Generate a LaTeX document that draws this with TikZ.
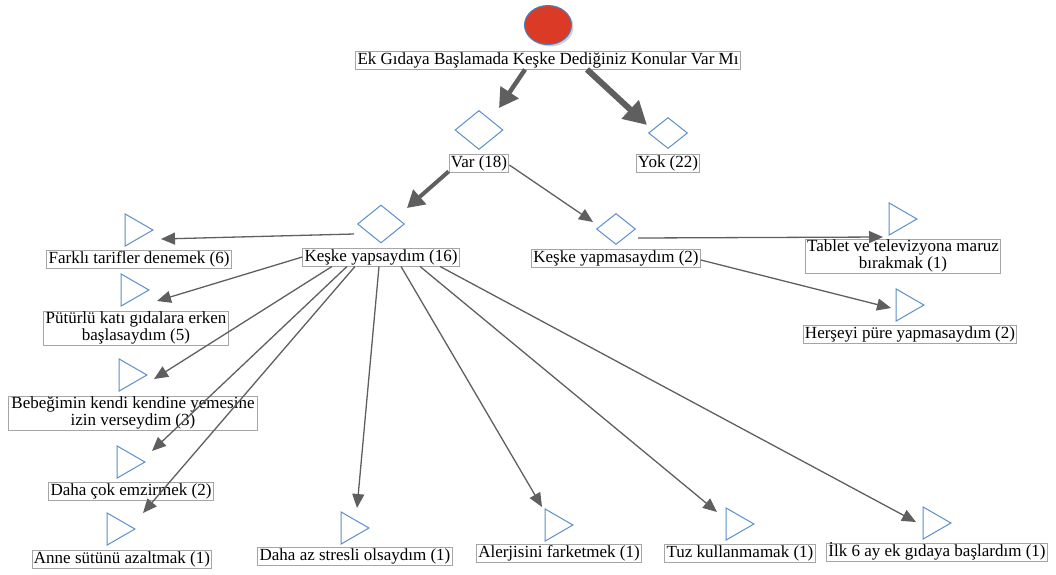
\documentclass[tikz,border=0pt]{standalone}
\usepackage{fontspec}
\setmainfont{Liberation Serif}
\usetikzlibrary{arrows.meta,shapes.geometric,shadows}
\definecolor{arrowgray}{HTML}{5F5F5F}
\definecolor{boxgray}{HTML}{A5A5A5}
\definecolor{shapeblue}{HTML}{5B8FCB}
\definecolor{rootred}{HTML}{DB3B26}
\definecolor{rootblue}{HTML}{4A7EBB}
\begin{document}
\begin{tikzpicture}[x=1pt,y=-1pt,
  lblbase/.style={draw=boxgray, line width=0.9pt, fill=white, inner xsep=1.8pt, inner ysep=0.75pt,
    align=center, font=\fontsize{17}{16.5}\selectfont},
  lbl/.style={lblbase, text height=12.5pt, text depth=4pt},
  lblm/.style={lblbase, inner ysep=1pt},
  dia/.style={diamond, draw=shapeblue, line width=1pt, inner sep=0pt},
  tri/.style={regular polygon, regular polygon sides=3, draw=shapeblue, line width=1pt,
    minimum size=37pt, inner sep=0pt, rotate=-90},
  conn/.style={draw=arrowgray, line width=1.3pt, -{Triangle[length=14pt,width=12pt]}},
  thickvar/.style={draw=arrowgray, line width=4.5pt, -{Triangle[length=19pt,width=21pt]}},
  thickyok/.style={draw=arrowgray, line width=6pt, -{Triangle[length=23pt,width=24pt]}},
  thickky/.style={draw=arrowgray, line width=4pt, -{Triangle[length=17pt,width=19pt]}}
]
\useasboundingbox (0,0) rectangle (1056,574);

% root
\node[ellipse, draw=rootblue, line width=1pt, fill=rootred, minimum width=47pt, minimum height=39pt,
  inner sep=0pt, drop shadow={shadow xshift=2pt, shadow yshift=-2pt, fill=gray!70}] (root) at (548,25) {};
\node[lbl] (title) at (548,60) {Ek Gıdaya Başlamada Keşke Dediğiniz Konular Var Mı};

% level 1
\node[dia, minimum width=48pt, minimum height=39pt] (dvar) at (479,130) {};
\node[lbl] (lvar) at (479,163) {Var (18)};
\node[dia, minimum width=39pt, minimum height=31pt] (dyok) at (668,133) {};
\node[lbl] (lyok) at (668,163) {Yok (22)};

% level 2
\node[dia, minimum width=47pt, minimum height=38pt] (dky) at (381,224) {};
\node[lbl] (lky) at (381,257) {Keşke yapsaydım (16)};
\node[dia, minimum width=39pt, minimum height=31pt] (dkm) at (616,229) {};
\node[lbl] (lkm) at (616,258) {Keşke yapmasaydım (2)};

% leaves (triangle node placed at centroid = box centre - 4.6)
\node[tri] (t1) at (134.4,230) {};
\node[lbl] (l1) at (139,259) {Farklı tarifler denemek (6)};
\node[tri] (t2) at (130.4,290) {};
\node[lblm] (l2) at (136,328) {Pütürlü katı gıdalara erken\\başlasaydım (5)};
\node[tri] (t3) at (128.4,375) {};
\node[lblm, inner xsep=3pt] (l3) at (133,413) {Bebeğimin kendi kendine yemesine\\izin verseydim (3)};
\node[tri] (t4) at (126.4,462) {};
\node[lbl] (l4) at (131,491) {Daha çok emzirmek (2)};
\node[tri] (t5) at (116.4,529) {};
\node[lbl] (l5) at (122,559) {Anne sütünü azaltmak (1)};
\node[tri] (t6) at (350.4,528) {};
\node[lbl] (l6) at (355,556) {Daha az stresli olsaydım (1)};
\node[tri] (t7) at (554.4,525) {};
\node[lbl] (l7) at (559,553) {Alerjisini farketmek (1)};
\node[tri] (t8) at (735.4,524) {};
\node[lbl] (l8) at (740,553) {Tuz kullanmamak (1)};
\node[tri] (t9) at (932.4,523) {};
\node[lbl] (l9) at (937,552) {İlk 6 ay ek gıdaya başlardım (1)};
\node[tri] (t10) at (898.4,219) {};
\node[lblm] (l10) at (903,256) {Tablet ve televizyona maruz\\bırakmak (1)};
\node[tri] (t11) at (905.4,305) {};
\node[lbl] (l11) at (910,334) {Herşeyi püre yapmasaydım (2)};

% arrow tips
\coordinate (eVar) at (499,108);
\coordinate (eYok) at (647,125);
\coordinate (eKy) at (407,208);
\coordinate (eKm) at (593,222);
\coordinate (e1) at (161,239);
\coordinate (e2) at (157,301);
\coordinate (e3) at (154,379);
\coordinate (e4) at (152,451);
\coordinate (e5) at (143,513);
\coordinate (e6) at (357,508);
\coordinate (e7) at (542,507);
\coordinate (e8) at (717,512);
\coordinate (e9) at (916,522);
\coordinate (e10) at (883,237);
\coordinate (e11) at (891,308);

% connectors
\draw[thickvar] ([xshift=-23pt]title.south) -- (eVar);
\draw[thickyok] ([xshift=39pt]title.south) -- (eYok);
\draw[thickky] ([yshift=1pt]lvar.south west) -- (eKy);
\draw[conn] ([yshift=-2pt]lvar.east) -- (eKm);
\draw[conn] ([xshift=-3pt,yshift=-10pt]dky.west) -- (e1);
\draw[conn] (lky.west) -- (e2);
\draw[conn] ([xshift=-49pt]lky.south) -- (e3);
\draw[conn] ([xshift=-34pt]lky.south) -- (e4);
\draw[conn] ([xshift=-26pt]lky.south) -- (e5);
\draw[conn] ([xshift=-2pt]lky.south) -- (e6);
\draw[conn] ([xshift=20pt]lky.south) -- (e7);
\draw[conn] ([xshift=39pt]lky.south) -- (e8);
\draw[conn] ([xshift=59pt]lky.south) -- (e9);
\draw[conn] ([xshift=2pt,yshift=-9pt]dkm.east) -- (e10);
\draw[conn] ([yshift=-2pt]lkm.east) -- (e11);
\end{tikzpicture}
\end{document}
